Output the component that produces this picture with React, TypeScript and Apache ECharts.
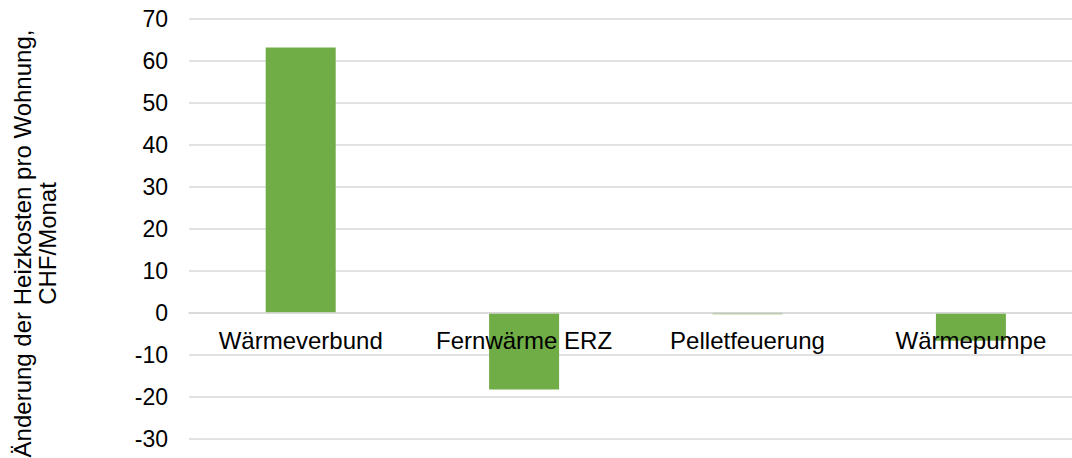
import React, { useEffect, useRef } from "react";
import * as echarts from "echarts";

const categories = ["Wärmeverbund", "Fernwärme ERZ", "Pelletfeuerung", "Wärmepumpe"];
const values = [63.2, -18.3, -0.4, -6.7];
const yTitle = "Änderung der Heizkosten pro Wohnung,\nCHF/Monat";

export default function App() {
  const ref = useRef<HTMLDivElement>(null);
  useEffect(() => {
    if (!ref.current) return;
    const chart = echarts.init(ref.current, null, { renderer: "svg" });
    const font = "Liberation Sans, Arial, sans-serif";
    chart.setOption({
      animation: false,
      grid: {
        left: 189,
        top: 19,
        width: 893.6,
        height: 419.5,
        containLabel: false,
        outerBoundsMode: "none",
      },
      xAxis: {
        type: "category",
        data: categories,
        offset: -126,
        axisLine: { show: true, onZero: false, lineStyle: { color: "#d9d9d9", width: 1.5 } },
        axisTick: { show: false },
        axisLabel: { color: "#000", fontSize: 24, fontFamily: font, margin: 16, interval: 0 },
        splitLine: { show: false },
        z: 5,
      },
      yAxis: {
        type: "value",
        min: -30,
        max: 70,
        interval: 10,
        axisLine: { show: false },
        axisTick: { show: false },
        axisLabel: { color: "#000", fontSize: 23, fontFamily: font, margin: 21 },
        splitLine: { lineStyle: { color: "#d9d9d9", width: 1.5 } },
      },
      series: [
        {
          type: "bar",
          data: values,
          barWidth: 70,
          itemStyle: { color: "#70ad47" },
          z: 1,
        },
      ],
      graphic: [
        {
          type: "text",
          x: 35,
          y: 243.5,
          rotation: Math.PI / 2,
          style: {
            text: yTitle,
            fill: "#000",
            fontSize: 24,
            fontFamily: font,
            align: "center",
            verticalAlign: "middle",
            lineHeight: 25,
          },
        },
      ],
    });
    return () => chart.dispose();
  }, []);
  return (
    <div
      ref={ref}
      style={{ position: "fixed", left: 0, top: 0, width: 1072, height: 458, background: "#fff" }}
    />
  );
}
